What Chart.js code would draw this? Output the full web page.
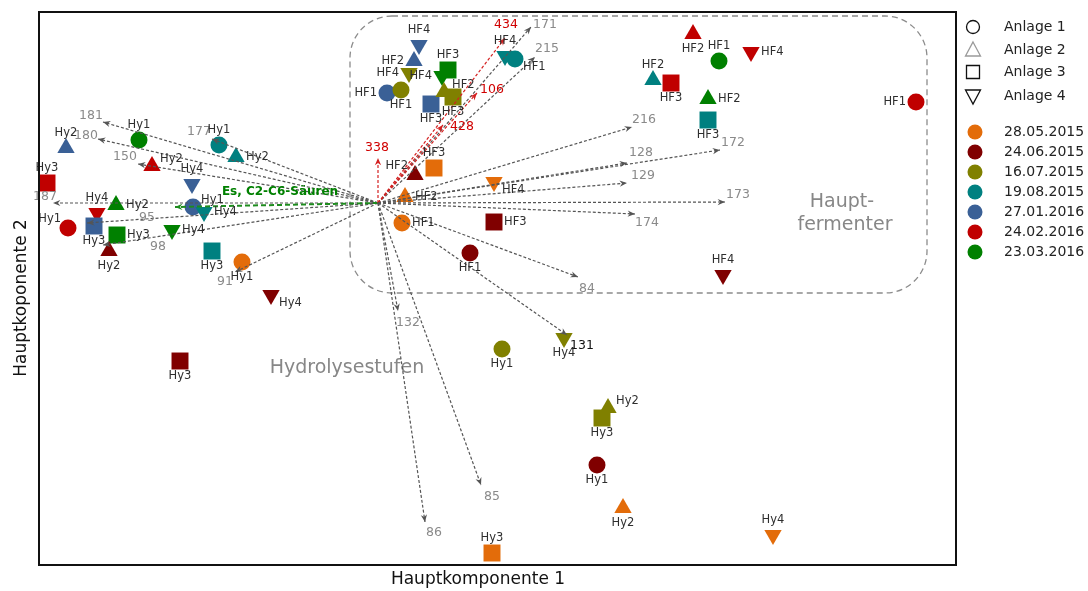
<!DOCTYPE html>
<html>
<head>
  <meta charset="utf-8">
  <title>PCA Biplot</title>
  <style>
    body { margin: 0; background: #ffffff; }
    #wrap { width: 1088px; height: 591px; }
  </style>
</head>
<body>
  <div id="wrap"><canvas id="pcaChart" width="1088" height="591"></canvas></div>

  <script src="https://cdn.jsdelivr.net/npm/chart.js"></script>
  <script>
    // Proben: Hauptfermenter (HF) und Hydrolysestufen (Hy) der Anlagen 1-4
    const samples = ['HF1', 'HF2', 'HF3', 'HF4', 'Hy1', 'Hy2', 'Hy3', 'Hy4'];
    const dates = ['28.05.2015', '24.06.2015', '16.07.2015', '19.08.2015', '27.01.2016', '24.02.2016', '23.03.2016'];
    const anlagen = ['Anlage 1', 'Anlage 2', 'Anlage 3', 'Anlage 4'];

    // Scores (Hauptkomponente 1 / 2), Reihenfolge wie samples
    const pc1_28_05_2015 = [0.24, 0.27, 0.56, 1.16, -1.36, 2.45, 1.14, 3.95];
    const pc2_28_05_2015 = [-0.20, 0.06, 0.35, 0.21, -0.59, -3.05, -3.50, -3.32];
    const pc1_24_06_2015 = [0.92, 0.37, 1.16, 3.45, 2.19, -2.69, -1.98, -1.07];
    const pc2_24_06_2015 = [-0.50, 0.28, -0.19, -0.72, -2.62, -0.48, -1.58, -0.92];
    const pc1_16_07_2015 = [0.23, 0.66, 0.75, 0.31, 1.24, 2.30, 2.24, 1.86];
    const pc2_16_07_2015 = [1.13, 1.11, 1.06, 1.30, -1.46, -2.05, -2.15, -1.35];
    const pc1_19_08_2015 = [1.37, 2.75, 3.30, 1.27, -1.59, -1.42, -1.66, -1.74];
    const pc2_19_08_2015 = [1.44, 1.23, 0.83, 1.47, 0.58, 0.46, -0.48, -0.09];
    const pc1_27_01_2016 = [0.09, 0.36, 0.53, 0.41, -1.85, -3.12, -2.84, -1.86];
    const pc2_27_01_2016 = [1.10, 1.42, 0.99, 1.58, -0.04, 0.55, -0.23, 0.19];
    const pc1_24_02_2016 = [5.38, 3.15, 2.93, 3.73, -3.10, -2.26, -3.31, -2.81];
    const pc2_24_02_2016 = [1.01, 1.69, 1.20, 1.51, -0.25, 0.37, 0.20, -0.10];
    const pc1_23_03_2016 = [3.41, 3.30, 0.70, 0.64, -2.39, -2.62, -2.61, -2.06];
    const pc2_23_03_2016 = [1.42, 1.04, 1.33, 1.27, 0.63, -0.02, -0.32, -0.27];

    // Ladungen (Pfeile)
    const loadingNames = ['181', '180', '150', '177', '187', '95', '98', '91', 'Es, C2-C6-Säuren',
      '434', '171', '215', '106', '428', '338', '216', '128', '172', '129', '173', '174', '84', '131', '132', '85', '86'];
    const loadingPC1 = [-2.75, -2.80, -2.40, -1.66, -3.25, -2.91, -2.75, -1.43, -2.03,
      1.27, 1.53, 1.57, 0.99, 0.65, 0.00, 2.54, 2.49, 3.42, 2.49, 3.47, 2.57, 2.00, 1.89, 0.20, 1.03, 0.47];
    const loadingPC2 = [0.81, 0.64, 0.39, 0.64, 0.00, -0.20, -0.42, -0.69, -0.04,
      1.65, 1.76, 1.46, 1.10, 0.78, 0.45, 0.76, 0.40, 0.53, 0.20, 0.01, -0.11, -0.74, -1.32, -1.08, -2.82, -3.19];
    const loadingGroup = ['g', 'g', 'g', 'g', 'g', 'g', 'g', 'g', 's',
      'r', 'g', 'g', 'r', 'r', 'r', 'g', 'g', 'g', 'g', 'g', 'g', 'g', 'k', 'g', 'g', 'g'];

    // Layout der Beschriftungen
    const loadLabelDx = [-12, -12, -13, -13, -8, 60, 55, -10, 105, 1, 14, 12, 15, 19, -1, 12, 14, 13, 16, 13, 12, 9, 15, 10, 11, 9];
    const loadLabelDy = [-6, -3, -7, -7, -6, -5, 2, 10, -15, -13, -2, -8, -3, 2, -10, -7, -10, -7, -7, -7, 9, 12, 11, 12, 12, 11];
    const labelPos = [
      ['r', 'r', 't', 'br', 'b', 'b', 't', 't'],
      ['b', 'tl', 'r', 't', 'b', 'b', 'b', 'br'],
      ['b', 'tr', 'b', 'l', 'b', 'tr', 'b', 'b'],
      ['br', 't', 'b', 't', 't', 'r', 'b', 'r'],
      ['l', 'l', 'b', 't', 'tr', 't', 'b', 't'],
      ['l', 'b', 'b', 'r', 'tl', 'tr', 't', 't'],
      ['t', 'r', 't', 'l', 't', 'r', 'r', 'r']
    ];

    const dateColors = ['#E36C0A', '#800000', '#808000', '#008080', '#3A6096', '#C00000', '#008000'];
    const shapeStyle = ['circle', 'triangle', 'rect', 'triangle'];
    const shapeRotation = [0, 0, 0, 180];
    const shapeRadius = [8.5, 10, 12, 10];

    const pc1Series = [pc1_28_05_2015, pc1_24_06_2015, pc1_16_07_2015, pc1_19_08_2015, pc1_27_01_2016, pc1_24_02_2016, pc1_23_03_2016];
    const pc2Series = [pc2_28_05_2015, pc2_24_06_2015, pc2_16_07_2015, pc2_19_08_2015, pc2_27_01_2016, pc2_24_02_2016, pc2_23_03_2016];

    const datasets = dates.map((d, i) => ({
      label: d,
      data: pc1Series[i].map((v, j) => ({ x: v, y: pc2Series[i][j] })),
      backgroundColor: dateColors[i],
      borderColor: dateColors[i],
      borderWidth: 0,
      pointStyle: samples.map((s, j) => shapeStyle[j % 4]),
      pointRotation: samples.map((s, j) => shapeRotation[j % 4]),
      pointRadius: samples.map((s, j) => shapeRadius[j % 4]),
      pointHoverRadius: samples.map((s, j) => shapeRadius[j % 4])
    }));

    const FONT = '"DejaVu Sans", Verdana, sans-serif';

    function drawArrow(ctx, x0, y0, x1, y1, color, width, dash) {
      ctx.save();
      ctx.strokeStyle = color;
      ctx.lineWidth = width;
      ctx.setLineDash(dash);
      ctx.beginPath();
      ctx.moveTo(x0, y0);
      ctx.lineTo(x1, y1);
      ctx.stroke();
      ctx.setLineDash([]);
      const a = Math.atan2(y1 - y0, x1 - x0);
      ctx.fillStyle = color;
      ctx.beginPath();
      ctx.moveTo(x1, y1);
      ctx.lineTo(x1 - 8 * Math.cos(a - 0.4), y1 - 8 * Math.sin(a - 0.4));
      ctx.lineTo(x1 - 5 * Math.cos(a), y1 - 5 * Math.sin(a));
      ctx.lineTo(x1 - 8 * Math.cos(a + 0.4), y1 - 8 * Math.sin(a + 0.4));
      ctx.closePath();
      ctx.fill();
      ctx.restore();
    }

    const biplot = {
      id: 'biplot',
      beforeDatasetsDraw(chart) {
        const { ctx, scales: { x, y } } = chart;
        // Bereich Hauptfermenter
        const l = x.getPixelForValue(-0.28), r = x.getPixelForValue(5.49);
        const t = y.getPixelForValue(1.87), b = y.getPixelForValue(-0.90);
        const rad = 42;
        ctx.save();
        ctx.strokeStyle = '#8c8c8c';
        ctx.lineWidth = 1.3;
        ctx.setLineDash([6, 4]);
        ctx.beginPath();
        ctx.moveTo(l + rad, t);
        ctx.lineTo(r - rad, t);
        ctx.arcTo(r, t, r, t + rad, rad);
        ctx.lineTo(r, b - rad);
        ctx.arcTo(r, b, r - rad, b, rad);
        ctx.lineTo(l + rad, b);
        ctx.arcTo(l, b, l, b - rad, rad);
        ctx.lineTo(l, t + rad);
        ctx.arcTo(l, t, l + rad, t, rad);
        ctx.stroke();
        ctx.restore();

        ctx.save();
        ctx.fillStyle = '#878787';
        ctx.font = '19px ' + FONT;
        ctx.textAlign = 'center';
        ctx.textBaseline = 'middle';
        ctx.fillText('Hydrolysestufen', x.getPixelForValue(-0.31), y.getPixelForValue(-1.65));
        ctx.fillText('Haupt-', x.getPixelForValue(4.64), y.getPixelForValue(0.01));
        ctx.fillText('fermenter', x.getPixelForValue(4.67), y.getPixelForValue(-0.22));
        ctx.restore();
      },
      afterDatasetsDraw(chart) {
        const { ctx, scales: { x, y } } = chart;
        const ox = x.getPixelForValue(0), oy = y.getPixelForValue(0);

        // Pfeile der Ladungen
        loadingNames.forEach((name, i) => {
          const g = loadingGroup[i];
          const px = x.getPixelForValue(loadingPC1[i]);
          const py = y.getPixelForValue(loadingPC2[i]);
          if (g === 's') drawArrow(ctx, ox, oy, px, py, '#1E8C1E', 2, [5, 3]);
          else if (g === 'r') drawArrow(ctx, ox, oy, px, py, '#D42020', 1.2, [3, 2]);
          else drawArrow(ctx, ox, oy, px, py, '#555555', 1.2, [3, 2]);
        });
        ctx.save();
        ctx.textAlign = 'center';
        ctx.textBaseline = 'middle';
        loadingNames.forEach((name, i) => {
          const g = loadingGroup[i];
          const px = x.getPixelForValue(loadingPC1[i]) + loadLabelDx[i];
          const py = y.getPixelForValue(loadingPC2[i]) + loadLabelDy[i];
          ctx.font = (g === 's' ? 'bold 12px ' : '12.5px ') + FONT;
          ctx.fillStyle = g === 's' ? '#008000' : g === 'r' ? '#D00000' : g === 'k' ? '#111111' : '#8a8a8a';
          ctx.fillText(name, px, py);
        });
        ctx.restore();

        // Probenbeschriftung
        ctx.save();
        ctx.font = '11.5px ' + FONT;
        ctx.fillStyle = '#2e2e2e';
        ctx.textBaseline = 'middle';
        chart.data.datasets.forEach((ds, i) => {
          chart.getDatasetMeta(i).data.forEach((pt, j) => {
            const pos = labelPos[i][j];
            let tx = pt.x, ty = pt.y;
            ctx.textAlign = 'center';
            if (pos === 't') ty -= 15;
            else if (pos === 'b') ty += 15;
            else if (pos === 'l') { tx -= 10; ctx.textAlign = 'right'; }
            else if (pos === 'r') { tx += 10; ctx.textAlign = 'left'; }
            else if (pos === 'tr') { tx += 8; ty -= 7; ctx.textAlign = 'left'; }
            else if (pos === 'br') { tx += 8; ty += 8; ctx.textAlign = 'left'; }
            else if (pos === 'tl') { tx -= 7; ty -= 9; ctx.textAlign = 'right'; }
            ctx.fillText(samples[j], tx, ty);
          });
        });
        ctx.restore();
      },
      afterDraw(chart) {
        const { ctx, chartArea: ca } = chart;
        // Rahmen
        ctx.save();
        ctx.strokeStyle = '#111111';
        ctx.lineWidth = 2;
        ctx.strokeRect(ca.left, ca.top, ca.right - ca.left, ca.bottom - ca.top);
        ctx.restore();

        // Achsentitel
        ctx.save();
        ctx.fillStyle = '#111111';
        ctx.font = '17px ' + FONT;
        ctx.textAlign = 'center';
        ctx.textBaseline = 'middle';
        ctx.fillText('Hauptkomponente 1', 478, 580);
        ctx.translate(22, 298);
        ctx.rotate(-Math.PI / 2);
        ctx.fillText('Hauptkoponente 2', 0, 0);
        ctx.restore();

        // Legende
        ctx.save();
        const lx = ca.right + 17;
        ctx.font = '14px ' + FONT;
        ctx.textBaseline = 'middle';
        ctx.textAlign = 'left';
        const shapeRows = [27, 50, 72, 96];
        anlagen.forEach((name, k) => {
          const cy = shapeRows[k];
          ctx.strokeStyle = k === 1 ? '#9a9a9a' : '#111111';
          ctx.lineWidth = 1.3;
          ctx.beginPath();
          if (k === 0) ctx.arc(lx, cy, 6.5, 0, Math.PI * 2);
          else if (k === 1) { ctx.moveTo(lx, cy - 8); ctx.lineTo(lx + 7.5, cy + 6); ctx.lineTo(lx - 7.5, cy + 6); ctx.closePath(); }
          else if (k === 2) ctx.rect(lx - 6.5, cy - 6.5, 13, 13);
          else { ctx.moveTo(lx - 7.5, cy - 6); ctx.lineTo(lx + 7.5, cy - 6); ctx.lineTo(lx, cy + 8); ctx.closePath(); }
          ctx.stroke();
          ctx.fillStyle = '#222222';
          ctx.fillText(name, lx + 31, cy);
        });
        dates.forEach((d, k) => {
          const cy = 132 + k * 20;
          ctx.fillStyle = dateColors[k];
          ctx.beginPath();
          ctx.arc(lx + 2, cy, 7.5, 0, Math.PI * 2);
          ctx.fill();
          ctx.fillStyle = '#222222';
          ctx.fillText(d, lx + 31, cy);
        });
        ctx.restore();
      }
    };

    new Chart(document.getElementById('pcaChart').getContext('2d'), {
      type: 'scatter',
      data: { datasets: datasets },
      options: {
        responsive: false,
        devicePixelRatio: 1,
        animation: false,
        layout: { padding: { left: 39, top: 12, right: 132, bottom: 26 } },
        plugins: { legend: { display: false }, tooltip: { enabled: false } },
        scales: {
          x: { type: 'linear', min: -3.39, max: 5.78, display: false },
          y: { type: 'linear', min: -3.62, max: 1.91, display: false }
        }
      },
      plugins: [biplot]
    });
  </script>
</body>
</html>
